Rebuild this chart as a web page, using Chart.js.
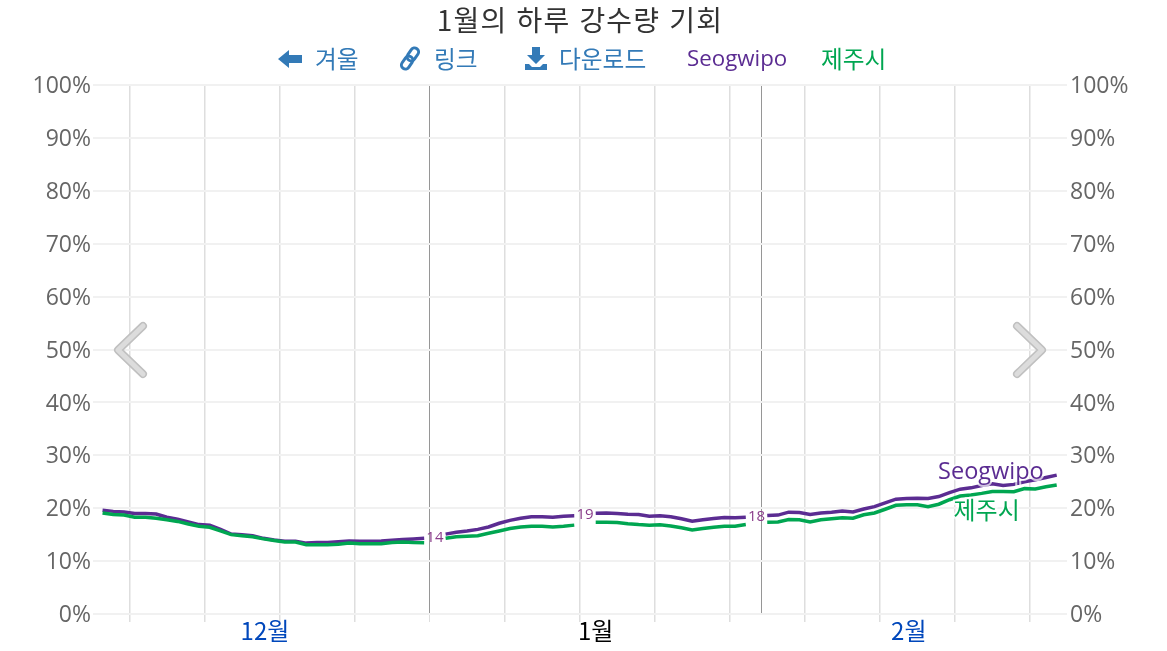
<!DOCTYPE html>
<html lang="ko">
<head>
<meta charset="utf-8">
<title>1월의 하루 강수량 기회</title>
<script src="https://cdn.jsdelivr.net/npm/chart.js@4"></script>
<style>
  html, body { margin: 0; background: #fff; }
  body { width: 1167px; height: 651px; position: relative; overflow: hidden; font-family: "Noto Sans CJK KR", "Open Sans", sans-serif; }
  canvas { position: absolute; left: 0; top: 0; }
  .title { position: absolute; left: 0; width: 1160px; top: 0; text-align: center; font-size: 28px; letter-spacing: 1.2px; line-height: 38px; color: #333; }
  .nav { position: absolute; top: 42px; font-size: 23.7px; line-height: 32px; color: #337ab7; white-space: nowrap; }
  #arrows { position: absolute; left: 0; top: 0; }
</style>
</head>
<body>
<canvas id="rainChart" width="1167" height="651"></canvas>
<svg id="arrows" width="1167" height="651" fill="none" stroke-linecap="round" stroke-linejoin="round">
  <polyline points="143,326 118,350 143,374" stroke="#c0c0c0" stroke-width="8"/>
  <polyline points="143,326 118,350 143,374" stroke="#dcdcdc" stroke-width="5"/>
  <polyline points="1017,326 1042,350 1017,374" stroke="#c0c0c0" stroke-width="8"/>
  <polyline points="1017,326 1042,350 1017,374" stroke="#dcdcdc" stroke-width="5"/>
</svg>
<div class="title">1월의 하루 강수량 기회</div>
<svg style="position:absolute;left:277px;top:48px" width="26" height="22" viewBox="0 0 26 22"><path d="M1 11 L12 2 V7 H25 V15 H12 V20 Z" fill="#337ab7"/></svg>
<div class="nav" style="left:315px">겨울</div>
<svg style="position:absolute;left:398px;top:46px" width="24" height="25" viewBox="0 0 24 24" fill="none" stroke="#337ab7" stroke-width="3"><g transform="rotate(-55 12 12)"><rect x="0" y="8" width="14" height="8" rx="4"/><rect x="10" y="8" width="14" height="8" rx="4"/></g></svg>
<div class="nav" style="left:434px">링크</div>
<svg style="position:absolute;left:524px;top:46px" width="24" height="25" viewBox="0 0 24 25"><path d="M8 1 H16 V9 H21 L12 18 L3 9 H8 Z M1 18 H5 L8 21 H16 L19 18 H23 V24 H1 Z" fill="#337ab7"/></svg>
<div class="nav" style="left:559px">다운로드</div>
<div class="nav" style="left:687px;color:#5b2c92;font-family:'Open Sans',sans-serif;font-size:22.3px">Seogwipo</div>
<div class="nav" style="left:821px;color:#00a651">제주시</div>

<script>
// 12월 1일 ~ 2월 28일 하루 단위 (null = 라벨 자리)
const seogwipo = [
  19.6, 19.4, 19.3, 19.0, 19.0, 18.9, 18.3, 17.9, 17.4, 16.9, 16.8, 16.0, 15.1, 15.0, 14.8, 14.3,
  14.0, 13.75, 13.75, 13.4, 13.5, 13.5, 13.65, 13.8, 13.75, 13.75, 13.8, 13.95, 14.1, 14.2, 14.3,
  null, 15.1, 15.45, 15.7, 16.0, 16.45, 17.15, 17.7, 18.1, 18.4, 18.4, 18.3, 18.5, 18.55,
  null, 19.05, 19.1, 19.0, 18.85, 18.8, 18.5, 18.55, 18.4, 18.0, 17.55, 17.8, 18.05, 18.25, 18.2, 18.3,
  null, 18.6, 18.7, 19.25, 19.2, 18.8, 19.1, 19.25, 19.45, 19.3, 19.85, 20.3, 21.0, 21.7, 21.85, 21.9,
  21.85, 22.2, 22.95, 23.6, 23.85, 24.3, 24.6, 24.3, 24.5, 25.0, 25.35, 25.8, 26.25,
];
const jeju = [
  19.1, 18.8, 18.7, 18.3, 18.3, 18.1, 17.8, 17.5, 17.0, 16.6, 16.4, 15.7, 15.0, 14.8, 14.6, 14.2,
  13.9, 13.6, 13.6, 13.1, 13.1, 13.1, 13.2, 13.4, 13.3, 13.3, 13.3, 13.5, 13.6, 13.5, 13.45,
  null, 14.3, 14.6, 14.7, 14.8, 15.25, 15.7, 16.15, 16.45, 16.6, 16.6, 16.45, 16.6, 16.8,
  null, 17.35, 17.35, 17.3, 17.05, 16.9, 16.8, 16.85, 16.65, 16.3, 15.9, 16.15, 16.4, 16.6, 16.6, 16.9,
  null, 17.35, 17.4, 17.85, 17.8, 17.4, 17.8, 18.0, 18.2, 18.1, 18.75, 19.1, 19.8, 20.55, 20.65, 20.65,
  20.3, 20.75, 21.6, 22.3, 22.5, 22.8, 23.15, 23.15, 23.1, 23.7, 23.65, 24.05, 24.4,
];
// 1월 1일 = 0, 달 경계와 주 단위 눈금
const days = seogwipo.map((_, i) => i - 30.5);
const weekTicks = [-28, -21, -14, -7, 0, 7, 14, 21, 28, 31, 35, 42, 49, 56];
const monthEdges = [0, 31];
const monthTicks = [-15.35, 15.5, 44.7];
const monthLabels = ["12월", "1월", "2월"];
const percentTicks = [0, 10, 20, 30, 40, 50, 60, 70, 80, 90, 100];
// 끊긴 자리에 적는 값
const noteDays = [0.5, 14.5, 30.5];
const noteValues = [14.4, 18.7, 18.3];
const endLabels = ["Seogwipo", "제주시"];

const PURPLE = "#5b2c92";
const GREEN = "#00a651";
const latin = '"Open Sans", sans-serif';
const korean = '"Noto Sans CJK KR", sans-serif';
const xMin = -31.39, xMax = 59.46;
const labelShift = 0.3; // 글자 위치만 1~2px 아래로

const toPoints = (arr) => arr.map((v, i) => ({ x: days[i], y: v }));

const lineNotes = {
  id: "lineNotes",
  afterDatasetsDraw(chart) {
    const { ctx, scales } = chart;
    ctx.save();
    ctx.textBaseline = "middle";
    ctx.textAlign = "center";
    ctx.font = "15px " + latin;
    ctx.fillStyle = "#8a3d8a";
    noteDays.forEach((d, i) => {
      ctx.fillText(Math.round(noteValues[i]), scales.x.getPixelForValue(d), scales.y.getPixelForValue(noteValues[i]));
    });

    // 끝 라벨, 선 위에 흰 테두리
    const lastX = scales.x.getPixelForValue(days[days.length - 1]);
    const drawEnd = (text, font, color, right, value) => {
      ctx.font = font;
      ctx.textAlign = "right";
      const y = scales.y.getPixelForValue(value);
      ctx.lineWidth = 4;
      ctx.strokeStyle = "rgba(255,255,255,0.7)";
      ctx.strokeText(text, right, y);
      ctx.fillStyle = color;
      ctx.fillText(text, right, y);
    };
    drawEnd(endLabels[0], "23.5px " + latin, PURPLE, lastX - 13, seogwipo[89] + 0.6);
    drawEnd(endLabels[1], "24px " + korean, GREEN, lastX - 37, jeju[89] - 4.74);
    ctx.restore();
  },
};

const percentLabelAxis = (position, width, padding) => ({
  position,
  min: labelShift,
  max: 100 + labelShift,
  afterBuildTicks: (scale) => { scale.ticks = percentTicks.map((v) => ({ value: v })); },
  afterFit: (scale) => { scale.width = width; },
  border: { display: false },
  grid: { display: false, drawTicks: false },
  ticks: { padding, color: "#666", font: { family: latin, size: 23 }, callback: (v) => v + "%" },
});

new Chart(document.getElementById("rainChart"), {
  type: "line",
  data: {
    datasets: [
      { label: "Seogwipo", data: toPoints(seogwipo), borderColor: PURPLE, order: 2 },
      { label: "제주시", data: toPoints(jeju), borderColor: GREEN, order: 1 },
    ],
  },
  options: {
    responsive: false,
    animation: false,
    layout: { padding: { top: 85, bottom: 0, left: 0, right: 0 } },
    elements: {
      point: { radius: 0 },
      line: { borderWidth: 3.5, tension: 0, spanGaps: false, borderCapStyle: "butt" },
    },
    plugins: { legend: { display: false }, tooltip: { enabled: false } },
    scales: {
      x: {
        type: "linear",
        position: "bottom",
        min: xMin,
        max: xMax,
        afterBuildTicks: (scale) => { scale.ticks = weekTicks.map((v) => ({ value: v })); },
        afterFit: (scale) => { scale.height = 0; },
        ticks: { display: false, autoSkip: false },
        border: { display: false },
        grid: {
          drawTicks: true,
          tickLength: 8,
          lineWidth: (c) => (monthEdges.includes(c.tick.value) ? 1 : 1.5),
          color: (c) => (monthEdges.includes(c.tick.value) ? "#969696" : "#dedede"),
          tickColor: (c) => (c.tick.value === 31 ? "rgba(0,0,0,0)" : "#dedede"),
        },
      },
      xMonth: {
        type: "linear",
        position: "bottom",
        min: xMin,
        max: xMax,
        afterBuildTicks: (scale) => { scale.ticks = monthTicks.map((v) => ({ value: v })); },
        afterFit: (scale) => { scale.height = 37; },
        border: { display: false },
        grid: { display: false },
        ticks: {
          autoSkip: false,
          maxRotation: 0,
          padding: -6,
          font: { family: korean, size: 24 },
          color: (c) => (c.index === 1 ? "#000" : "#0047bb"),
          callback: (v, i) => monthLabels[i],
        },
      },
      y: {
        position: "left",
        min: 0,
        max: 100,
        afterBuildTicks: (scale) => { scale.ticks = percentTicks.map((v) => ({ value: v })); },
        afterFit: (scale) => { scale.width = 0; },
        border: { display: false },
        grid: { color: "#f1f1f1", lineWidth: 2, drawTicks: false },
        ticks: { display: false },
      },
      yLeft: percentLabelAxis("left", 93, 2),
      yRight: percentLabelAxis("right", 100, 3),
    },
  },
  plugins: [lineNotes],
});
</script>
</body>
</html>
